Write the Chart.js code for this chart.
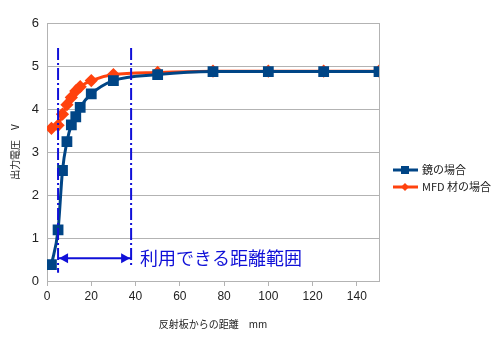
<!DOCTYPE html>
<html><head><meta charset="utf-8">
<script src="https://cdn.jsdelivr.net/npm/chart.js@4/dist/chart.umd.min.js"></script>
<style>html,body{margin:0;padding:0;background:#fff}#wrap{width:500px;height:352px}</style>
</head><body><div id="wrap"><canvas id="c" width="500" height="352"></canvas></div>
<script>
const distMirror = [2, 5, 7, 9, 11, 13, 15, 20, 30, 50, 75, 100, 125, 150];
const voltMirror = [0.38, 1.19, 2.57, 3.24, 3.63, 3.82, 4.04, 4.35, 4.66, 4.8, 4.87, 4.87, 4.87, 4.87];
const distMFD = [2, 5, 7, 9, 11, 13, 15, 20, 30, 50, 75, 100, 125, 150];
const voltMFD = [3.55, 3.62, 3.88, 4.1, 4.27, 4.42, 4.52, 4.66, 4.8, 4.85, 4.88, 4.88, 4.88, 4.88];
const seriesNames = ['鏡の場合', 'MFD 材の場合'];
const xTicks = [0, 20, 40, 60, 80, 100, 120, 140];
const yTicks = [0, 1, 2, 3, 4, 5, 6];
const rangeStart = 5, rangeEnd = 38;
const rangeLineTop = 5.42, rangeStartBottom = 0.19, rangeEndBottom = 0.33;
const arrowY = 0.53;
const rangeLabel = '利用できる距離範囲';
const rangeLabelX = 42;
const xTitle = '反射板からの距離　mm';
const yTitle = '出力電圧　V';

const FONT = '"Liberation Sans", "Noto Sans CJK JP", sans-serif';
const JFONT = '"Noto Sans CJK JP", sans-serif';
const BLUE = '#004586', ORANGE = '#ff420e', ANN = '#1010d8';

const toPts = (xs, ys) => xs.map((x, i) => ({x, y: ys[i]}));
const dashStyle = [12, 3, 2, 3];

const annPlugin = {
  id: 'ann',
  beforeDatasetsDraw(chart) {
    const {ctx, chartArea: a} = chart;
    ctx.save();
    ctx.strokeStyle = '#b3b3b3'; ctx.lineWidth = 1;
    ctx.strokeRect(a.left + 0.5, a.top + 0.5, a.right - a.left, a.bottom - a.top);
    ctx.restore();
  },
  afterDatasetsDraw(chart) {
    const {ctx, scales: {x, y}} = chart;
    ctx.save();
    const yA = y.getPixelForValue(arrowY);
    const x1 = x.getPixelForValue(rangeStart), x2 = x.getPixelForValue(rangeEnd);
    ctx.fillStyle = ANN;
    ctx.beginPath(); ctx.moveTo(x1 + 1, yA); ctx.lineTo(x1 + 10, yA - 5); ctx.lineTo(x1 + 10, yA + 5); ctx.closePath(); ctx.fill();
    ctx.beginPath(); ctx.moveTo(x2 - 1, yA); ctx.lineTo(x2 - 10, yA - 5); ctx.lineTo(x2 - 10, yA + 5); ctx.closePath(); ctx.fill();
    ctx.font = '18px ' + JFONT;
    ctx.textBaseline = 'middle'; ctx.textAlign = 'left';
    ctx.fillText(rangeLabel, x.getPixelForValue(rangeLabelX), yA);
    ctx.restore();
  },
  afterDraw(chart) {
    const {ctx} = chart;
    ctx.save();
    const items = [{c: BLUE, s: 'rect'}, {c: ORANGE, s: 'rectRot'}];
    const lx = 393, ly0 = 170;
    items.forEach((it, i) => {
      const yy = ly0 + i * 17;
      ctx.strokeStyle = it.c; ctx.lineWidth = 3;
      ctx.beginPath(); ctx.moveTo(lx, yy); ctx.lineTo(lx + 25, yy); ctx.stroke();
      ctx.fillStyle = it.c;
      if (it.s === 'rect') { ctx.fillRect(lx + 8, yy - 4, 8, 8); }
      else { ctx.beginPath(); ctx.moveTo(lx + 12, yy - 4); ctx.lineTo(lx + 16, yy); ctx.lineTo(lx + 12, yy + 4); ctx.lineTo(lx + 8, yy); ctx.closePath(); ctx.fill(); }
      ctx.fillStyle = '#222';
      ctx.font = '11px ' + JFONT;
      ctx.textBaseline = 'middle'; ctx.textAlign = 'left';
      ctx.fillText(seriesNames[i], lx + 29, yy);
    });
    ctx.restore();
  }
};

new Chart(document.getElementById('c'), {
  type: 'line',
  data: {
    datasets: [
      {label: seriesNames[1], data: toPts(distMFD, voltMFD), borderColor: ORANGE, backgroundColor: ORANGE,
        borderWidth: 3, pointStyle: 'rectRot', pointRadius: 4.5, cubicInterpolationMode: 'monotone', order: 2},
      {label: seriesNames[0], data: toPts(distMirror, voltMirror), borderColor: BLUE, backgroundColor: BLUE,
        borderWidth: 3, pointStyle: 'rect', pointRadius: 5.5, cubicInterpolationMode: 'monotone', order: 1},
      {label: 'start', data: [{x: rangeStart, y: rangeLineTop}, {x: rangeStart, y: rangeStartBottom}],
        borderColor: ANN, borderWidth: 2, borderDash: dashStyle, pointRadius: 0, order: 0},
      {label: 'end', data: [{x: rangeEnd, y: rangeLineTop}, {x: rangeEnd, y: rangeEndBottom}],
        borderColor: ANN, borderWidth: 2, borderDash: dashStyle, pointRadius: 0, order: 0},
      {label: 'arrow', data: [{x: rangeStart, y: arrowY}, {x: rangeEnd, y: arrowY}],
        borderColor: ANN, borderWidth: 2, pointRadius: 0, order: 0}
    ]
  },
  options: {
    responsive: false, animation: false,
    layout: {padding: {left: 0, right: 121, top: 23, bottom: 22}},
    plugins: {legend: {display: false}, tooltip: {enabled: false}},
    scales: {
      x: {
        type: 'linear', min: 0, max: 150,
        afterBuildTicks: s => { s.ticks = xTicks.map(v => ({value: v})); },
        afterFit: s => { s.height = 49; },
        grid: {drawOnChartArea: false, drawTicks: true, tickLength: 5, color: '#b3b3b3'},
        border: {color: '#b3b3b3'},
        ticks: {color: '#222', font: {family: FONT, size: 12}, padding: 3},
        title: {display: true, text: xTitle, color: '#222', font: {family: JFONT, size: 10}, padding: {top: 0, bottom: 0}}
      },
      y: {
        min: 0, max: 6,
        afterBuildTicks: s => { s.ticks = yTicks.map(v => ({value: v})); },
        afterFit: s => { s.width = 47; },
        grid: {color: '#b3b3b3', drawTicks: false},
        border: {color: '#b3b3b3'},
        ticks: {color: '#222', font: {family: FONT, size: 13}, padding: 8},
        title: {display: true, text: yTitle, color: '#222', font: {family: JFONT, size: 10}, padding: {top: 9, bottom: 0}}
      }
    }
  },
  plugins: [annPlugin]
});
</script>
</body></html>
